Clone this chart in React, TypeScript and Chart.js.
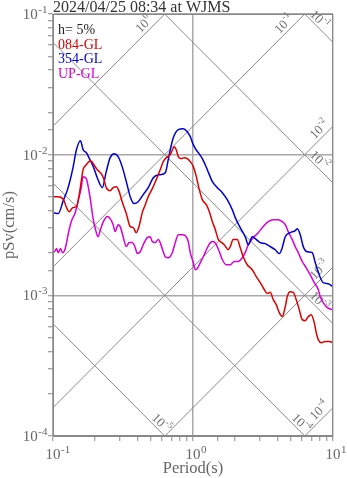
import React, { useEffect, useRef } from 'react';
import { Chart, registerables } from 'chart.js';

Chart.register(...registerables);

const TITLE = '2024/04/25 08:34 at WJMS';
const DAMPING = 'h= 5%';
const X_TITLE = 'Period(s)';
const Y_TITLE = 'pSv(cm/s)';
const SERIES_NAMES = ['084-GL', '354-GL', 'UP-GL'];
const SERIES_COLORS = ['#e00000', '#0000d8', '#d800d8'];

const X_DECADES = [0.1, 1, 10];
const X_EXP = ['-1', '0', '1'];
const Y_DECADES = [1e-4, 1e-3, 1e-2, 1e-1];
const Y_EXP = ['-4', '-3', '-2', '-1'];
// displacement (cm) and acceleration (cm/s^2) guide lines
const DISP_LINES = [1e-5, 1e-4, 1e-3, 1e-2, 1e-1];
const DISP_EXP = ['-5', '-4', '-3', '-2', '-1'];
const ACC_LINES = [1e-4, 1e-3, 1e-2, 1e-1, 1];
const ACC_EXP = ['-4', '-3', '-2', '-1', '0'];

const PERIOD_084 = [0.100,0.109,0.119,0.125,0.131,0.138,0.147,0.154,0.159,0.164,0.173,0.185,0.194,0.207,0.218,0.229,0.240,0.256,0.269,0.283,0.297,0.312,0.334,0.356,0.374,0.393,0.413,0.434,0.456,0.479,0.512,0.546,0.583,0.613,0.644,0.688,0.735,0.759,0.785,0.824,0.866,0.910,0.956,1.005,1.056,1.109,1.166,1.245,1.308,1.375,1.444,1.517,1.568,1.672,1.785,1.845,1.938,2.070,2.175,2.285,2.440,2.649,2.829,3.022,3.227,3.390,3.562,3.742,3.931,4.130,4.339,4.559,4.711,4.949,5.200,5.463,5.739,6.029,6.335,6.655,6.992,7.346,7.591,7.845,8.243,8.804,9.403,10.0];
const SV_084 = [0.00503,0.00503,0.00479,0.00420,0.00393,0.00420,0.00427,0.00520,0.00643,0.00782,0.00849,0.00907,0.00863,0.00782,0.00745,0.00686,0.00583,0.00555,0.00583,0.00592,0.00546,0.00463,0.00381,0.00308,0.00303,0.00279,0.00313,0.00387,0.00441,0.00503,0.00573,0.00664,0.00782,0.00892,0.00952,0.0100,0.01140,0.01085,0.00968,0.00937,0.00952,0.00937,0.00892,0.00822,0.00698,0.00564,0.00479,0.00441,0.00393,0.00334,0.00293,0.00249,0.00241,0.00229,0.00211,0.00222,0.00249,0.00249,0.00218,0.00188,0.00165,0.00152,0.00136,0.00123,0.00110,0.00103,0.00105,0.000932,0.000859,0.000754,0.000706,0.000831,0.000979,0.00106,0.00105,0.000932,0.000791,0.000672,0.000661,0.000706,0.000729,0.000640,0.000543,0.000484,0.000461,0.000469,0.000469,0.000461];

const PERIOD_354 = [0.100,0.109,0.119,0.127,0.138,0.147,0.157,0.164,0.173,0.182,0.194,0.207,0.225,0.240,0.256,0.274,0.292,0.312,0.334,0.356,0.380,0.406,0.441,0.479,0.520,0.583,0.634,0.666,0.688,0.723,0.785,0.851,0.910,0.956,1.005,1.039,1.091,1.166,1.266,1.375,1.492,1.620,1.756,1.907,2.003,2.175,2.361,2.481,2.649,2.784,3.022,3.281,3.562,3.867,4.130,4.339,4.559,4.949,5.374,5.553,5.834,6.130,6.547,7.108,7.467,8.108,8.518,9.249,10.0];
const SV_354 = [0.00387,0.00381,0.00479,0.00564,0.00782,0.01085,0.01258,0.01085,0.01033,0.00937,0.00822,0.00686,0.00583,0.00757,0.00952,0.01017,0.00968,0.00822,0.00643,0.00503,0.00449,0.00463,0.00520,0.00583,0.00686,0.00721,0.00745,0.00922,0.01085,0.01321,0.01506,0.01530,0.01457,0.01343,0.01178,0.01103,0.01033,0.00937,0.00782,0.00643,0.00583,0.00537,0.00479,0.00407,0.00357,0.00303,0.00261,0.00229,0.00261,0.00253,0.00237,0.00233,0.00222,0.00211,0.00198,0.00218,0.00261,0.00279,0.00288,0.00298,0.00270,0.00222,0.00204,0.00201,0.00171,0.00134,0.00123,0.00121,0.00115];

const PERIOD_UP = [0.100,0.104,0.106,0.109,0.113,0.117,0.121,0.125,0.129,0.135,0.144,0.152,0.159,0.164,0.173,0.179,0.185,0.194,0.204,0.210,0.218,0.229,0.244,0.256,0.269,0.278,0.292,0.302,0.317,0.334,0.350,0.368,0.387,0.400,0.420,0.441,0.471,0.495,0.512,0.537,0.565,0.583,0.613,0.634,0.666,0.711,0.747,0.785,0.838,0.880,0.925,0.956,1.005,1.039,1.073,1.128,1.185,1.266,1.330,1.397,1.468,1.542,1.620,1.727,1.845,1.970,2.105,2.248,2.361,2.481,2.693,2.924,3.174,3.446,3.742,4.063,4.339,4.559,4.789,5.115,5.374,5.646,6.029,6.440,6.878,7.346,7.845,8.108,8.518,9.098,10.0];
const SV_UP = [0.00201,0.00208,0.00215,0.00201,0.00215,0.00201,0.00208,0.00237,0.00279,0.00334,0.00387,0.00479,0.00583,0.00698,0.00675,0.00583,0.00479,0.00345,0.00279,0.00261,0.00293,0.00334,0.00363,0.00351,0.00318,0.00284,0.00318,0.00308,0.00261,0.00222,0.00237,0.00237,0.00218,0.00198,0.00204,0.00229,0.00257,0.00261,0.00241,0.00237,0.00249,0.00237,0.00204,0.00188,0.00185,0.00201,0.00237,0.00270,0.00270,0.00266,0.00241,0.00201,0.00171,0.00152,0.00155,0.00171,0.00188,0.00218,0.00237,0.00241,0.00229,0.00204,0.00179,0.00165,0.00165,0.00174,0.00174,0.00185,0.00201,0.00229,0.00257,0.00279,0.00308,0.00334,0.00345,0.00345,0.00334,0.00318,0.00284,0.00249,0.00222,0.00201,0.00174,0.00157,0.00140,0.00123,0.00110,0.000979,0.000887,0.000818,0.000791];

const FONT = '"Liberation Serif", "Times New Roman", serif';
const GRID = '#a8a8a8';
const AXIS = '#888888';
const DIAG = '#8a8a8a';
const LABEL = '#666666';

const isDecade = (v: number) => {
  if (!(v > 0)) return false;
  const l = Math.log10(v);
  return Math.abs(l - Math.round(l)) < 1e-6;
};

function drawPow(ctx: CanvasRenderingContext2D, x: number, y: number, exp: string, size: number, align: 'center-base' | 'right' | 'center') {
  ctx.font = `${size}px ${FONT}`;
  const wBase = ctx.measureText('10').width;
  const supSize = Math.round(size * 0.7);
  ctx.font = `${supSize}px ${FONT}`;
  const wSup = ctx.measureText(exp).width;
  let x0 = x;
  if (align === 'center-base') x0 = x - wBase / 2;
  else if (align === 'right') x0 = x - wBase - wSup;
  else x0 = x - (wBase + wSup) / 2;
  ctx.font = `${size}px ${FONT}`;
  ctx.fillText('10', x0, y);
  ctx.font = `${supSize}px ${FONT}`;
  ctx.fillText(exp, x0 + wBase + 0.5, y - size * 0.4);
}

const tripartite = {
  id: 'tripartite',
  beforeDatasetsDraw(chart: any) {
    const { ctx, chartArea: a, scales } = chart;
    const xs = scales.x;
    const ys = scales.y;
    const tMin = xs.min, tMax = xs.max, sMin = ys.min, sMax = ys.max;
    ctx.save();
    ctx.beginPath();
    ctx.rect(a.left, a.top, a.right - a.left, a.bottom - a.top);
    ctx.clip();
    ctx.strokeStyle = DIAG;
    ctx.lineWidth = 1;
    const line = (f: (t: number) => number) => {
      ctx.beginPath();
      ctx.moveTo(xs.getPixelForValue(tMin), ys.getPixelForValue(f(tMin)));
      ctx.lineTo(xs.getPixelForValue(tMax), ys.getPixelForValue(f(tMax)));
      ctx.stroke();
    };
    DISP_LINES.forEach((d) => line((t) => (2 * Math.PI * d) / t));
    ACC_LINES.forEach((acc) => line((t) => (acc * t) / (2 * Math.PI)));
    ctx.restore();

    // labels on guide lines
    ctx.save();
    ctx.fillStyle = '#707070';
    ctx.textBaseline = 'middle';
    const label = (f: (t: number) => number, tEnd: number, back: number, perp: number, exp: string) => {
      const ex = xs.getPixelForValue(tEnd), ey = ys.getPixelForValue(f(tEnd));
      const px = xs.getPixelForValue(tMin), py = ys.getPixelForValue(f(tMin));
      let dx = ex - px, dy = ey - py;
      const L = Math.hypot(dx, dy);
      dx /= L; dy /= L;
      let nx = dy, ny = -dx;
      if (ny > 0) { nx = -nx; ny = -ny; }
      const cx = ex - dx * back + nx * perp;
      const cy = ey - dy * back + ny * perp;
      ctx.save();
      ctx.translate(cx, cy);
      ctx.rotate(Math.atan2(dy, dx));
      drawPow(ctx, 0, 0, exp, 13, 'center');
      ctx.restore();
    };
    DISP_LINES.forEach((d, i) => {
      const f = (t: number) => (2 * Math.PI * d) / t;
      const tBottom = (2 * Math.PI * d) / sMin;
      const atRight = tBottom >= tMax;
      label(f, Math.min(tMax, tBottom), atRight ? 26 : 12, 6, DISP_EXP[i]);
    });
    ACC_LINES.forEach((acc, i) => {
      const f = (t: number) => (acc * t) / (2 * Math.PI);
      const tTop = (sMax * 2 * Math.PI) / acc;
      const atRight = tTop >= tMax;
      label(f, Math.min(tMax, tTop), atRight ? 12 : 22, 7, ACC_EXP[i]);
    });
    ctx.restore();
  },
  afterDraw(chart: any) {
    const { ctx, chartArea: a, scales } = chart;
    const xs = scales.x;
    const ys = scales.y;
    ctx.save();
    ctx.strokeStyle = AXIS;
    ctx.lineWidth = 1;
    ctx.strokeRect(a.left + 0.5, a.top + 0.5, a.right - a.left - 1, a.bottom - a.top - 1);
    ctx.fillStyle = LABEL;
    ctx.textBaseline = 'alphabetic';
    ctx.textAlign = 'left';
    X_DECADES.forEach((v, i) => {
      drawPow(ctx, xs.getPixelForValue(v), a.bottom + 23, X_EXP[i], 15, 'center-base');
    });
    Y_DECADES.forEach((v, i) => {
      drawPow(ctx, a.left - 6, ys.getPixelForValue(v) + 5, Y_EXP[i], 15, 'right');
    });
    ctx.font = `16.5px ${FONT}`;
    ctx.textAlign = 'center';
    ctx.fillText(X_TITLE, (a.left + a.right) / 2, a.bottom + 37);
    ctx.save();
    ctx.translate(10, (a.top + a.bottom) / 2);
    ctx.rotate(-Math.PI / 2);
    ctx.textBaseline = 'middle';
    ctx.fillText(Y_TITLE, 0, 0);
    ctx.restore();
    ctx.textAlign = 'left';
    ctx.textBaseline = 'alphabetic';
    ctx.fillStyle = '#333333';
    ctx.font = `16px ${FONT}`;
    ctx.fillText(TITLE, a.left, 12);
    ctx.font = `14px ${FONT}`;
    ctx.fillStyle = '#222222';
    ctx.fillText(DAMPING, a.left + 5, a.top + 20);
    SERIES_NAMES.forEach((n, i) => {
      ctx.fillStyle = SERIES_COLORS[i];
      ctx.fillText(n, a.left + 5, a.top + 34.5 + i * 14.5);
    });
    ctx.restore();
  },
};

export default function App() {
  const ref = useRef<HTMLCanvasElement>(null);
  useEffect(() => {
    const canvas = ref.current;
    if (!canvas) return;
    const mk = (p: number[], s: number[]) => p.map((t, i) => ({ x: t, y: s[i] }));
    const series = [
      mk(PERIOD_084, SV_084),
      mk(PERIOD_354, SV_354),
      mk(PERIOD_UP, SV_UP),
    ];
    const gridOpts = {
      color: (c: any) => (c.tick && isDecade(c.tick.value) ? GRID : 'rgba(0,0,0,0)'),
      lineWidth: 1.5,
      tickColor: AXIS,
      tickLength: 5,
      tickWidth: 1,
      drawTicks: true,
    };
    const chart = new Chart(canvas, {
      type: 'line',
      data: {
        datasets: series.map((d, i) => ({
          label: SERIES_NAMES[i],
          data: d,
          borderColor: SERIES_COLORS[i],
          backgroundColor: SERIES_COLORS[i],
          borderWidth: 1.5,
          pointRadius: 0,
          fill: false,
          cubicInterpolationMode: 'monotone' as const,
        })),
      },
      options: {
        responsive: false,
        animation: false,
        devicePixelRatio: 1,
        layout: { padding: { top: 14, right: 14, left: 0, bottom: 0 } },
        plugins: { legend: { display: false }, tooltip: { enabled: false }, title: { display: false } },
        scales: {
          x: {
            type: 'logarithmic',
            min: 0.1,
            max: 10,
            afterFit: (s: any) => { s.height = 42; },
            ticks: { display: false, autoSkip: false },
            grid: gridOpts,
            border: { display: true, color: AXIS, width: 1 },
          },
          y: {
            type: 'logarithmic',
            min: 1e-4,
            max: 1e-1,
            afterFit: (s: any) => { s.width = 53; },
            ticks: { display: false, autoSkip: false },
            grid: gridOpts,
            border: { display: true, color: AXIS, width: 1 },
          },
        },
      } as any,
      plugins: [tripartite],
    });
    return () => chart.destroy();
  }, []);
  return (
    <div style={{ position: 'absolute', left: 0, top: 0, width: 347, height: 478, background: '#fff' }}>
      <canvas ref={ref} width={347} height={478} style={{ display: 'block', width: 347, height: 478 }} />
    </div>
  );
}
